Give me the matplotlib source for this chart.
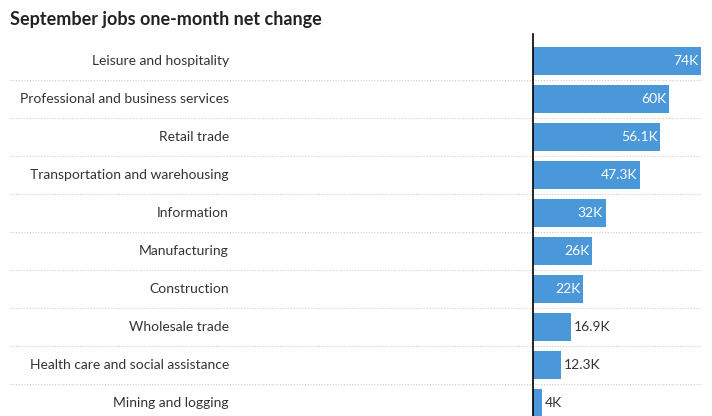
import matplotlib.pyplot as plt

categories = ['Leisure and hospitality', 'Professional and business services', 'Retail trade',
              'Transportation and warehousing', 'Information', 'Manufacturing', 'Construction',
              'Wholesale trade', 'Health care and social assistance', 'Mining and logging']
values = [74, 60, 56.1, 47.3, 32, 26, 22, 16.9, 12.3, 4]
labels = ['74K', '60K', '56.1K', '47.3K', '32K', '26K', '22K', '16.9K', '12.3K', '4K']

W, H = 712, 416
fig = plt.figure(figsize=(W / 100, H / 100), dpi=100)
plt.rcParams['font.family'] = ['Lato', 'DejaVu Sans']

def box(x0, x1, y0, y1):
    return [x0 / W, 1 - y1 / H, (x1 - x0) / W, (y1 - y0) / H]

n = len(categories)
# background axes for separators and category labels
bg = fig.add_axes(box(10, 701, 42, 422))
bg.set_xlim(10, 701)
bg.set_ylim(n - 0.5, -0.5)
bg.axis('off')
for i in range(n - 1):
    bg.axhline(i + 0.5, color='#cccccc', lw=0.8, ls=(0, (1, 1.5)))
for i, c in enumerate(categories):
    bg.text(229, i, c, ha='right', va='center', fontsize=10, color='#333333')

ax = fig.add_axes(box(533, 701, 42, 422))
ax.barh(range(n), values, height=0.72, color='#4a98d9')
ax.set_xlim(0, 74)
ax.set_ylim(n - 0.5, -0.5)
ax.axis('off')
ax.axvline(0, color='black', lw=1.2, ymax=1.02, clip_on=False)
for i, (v, l) in enumerate(zip(values, labels)):
    if v > 20:
        ax.text(v - 1.2, i, l, ha='right', va='center', color='white', fontsize=10)
    else:
        ax.text(v + 1.2, i, l, ha='left', va='center', color='#333333', fontsize=10)

fig.text(10 / W, 1 - 20 / H, 'September jobs one-month net change', fontsize=13,
         fontweight='bold', va='center', color='#222222')

fig.savefig('out.png', dpi=100)
